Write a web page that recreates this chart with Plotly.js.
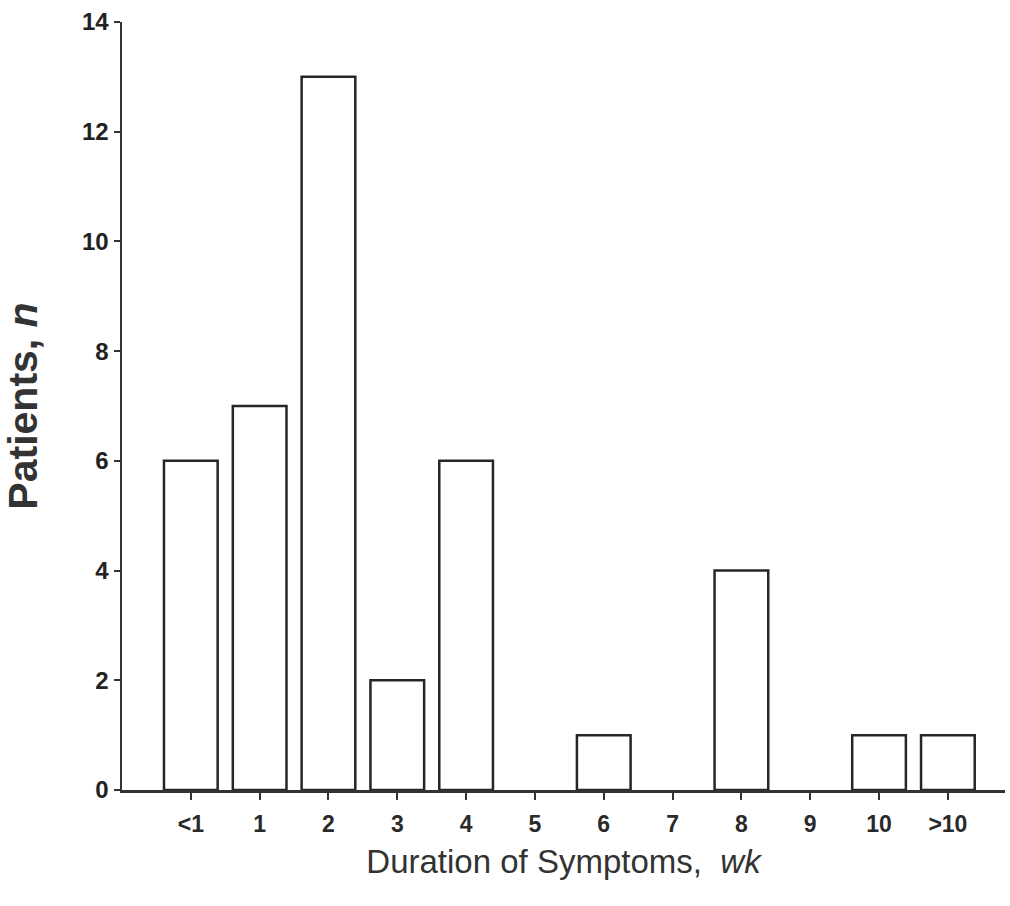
<!DOCTYPE html>
<html>
<head>
<meta charset="utf-8">
<script src="https://cdn.plot.ly/plotly-3.0.1.min.js"></script>
<style>html,body{margin:0;padding:0;background:#fff;}#chart{width:1010px;height:906px;}</style>
</head>
<body>
<div id="chart"></div>
<script>
const categories = ["<1","1","2","3","4","5","6","7","8","9","10",">10"];
const patients = [6,7,13,2,6,0,1,0,4,0,1,1];
const yTicks = [0,2,4,6,8,10,12,14];

// zero-count categories have no visible bar outline in the original
const outlineWidths = patients.map(v => v === 0 ? 0 : 2.5);

const trace = {
  type: "bar",
  x: categories,
  y: patients,
  marker: {color: "#ffffff", line: {color: "#262626", width: outlineWidths}},
  hoverinfo: "x+y"
};

const layout = {
  width: 1010, height: 906,
  margin: {l: 122, r: 5, t: 22, b: 116},
  paper_bgcolor: "#ffffff", plot_bgcolor: "#ffffff",
  bargap: 0.22,
  showlegend: false,
  font: {family: "Liberation Sans, Arial, sans-serif", color: "#222222"},
  xaxis: {
    type: "category",
    range: [-1, 11.83],
    showline: true, linecolor: "#333333", linewidth: 2.5,
    ticks: "outside", ticklen: 7, tickwidth: 2, tickcolor: "#333333",
    ticklabelstandoff: 5,
    showgrid: false, zeroline: false,
    tickfont: {size: 23, color: "#2a2a2a", weight: "bold"},
    title: {text: "Duration of Symptoms,  <i>wk</i>", font: {size: 33, color: "#333333"}, standoff: 14}
  },
  yaxis: {
    range: [0, 14],
    tickvals: yTicks,
    showline: true, linecolor: "#333333", linewidth: 2.5,
    ticks: "outside", ticklen: 6, tickwidth: 2, tickcolor: "#333333",
    showgrid: false, zeroline: false,
    tickfont: {size: 24, color: "#222222", weight: "bold"},
    title: {text: "<b>Patients, <i>n</i></b>", font: {size: 41, color: "#333333"}, standoff: 33}
  }
};

Plotly.newPlot("chart", [trace], layout, {displayModeBar: false, staticPlot: true});
</script>
</body>
</html>
